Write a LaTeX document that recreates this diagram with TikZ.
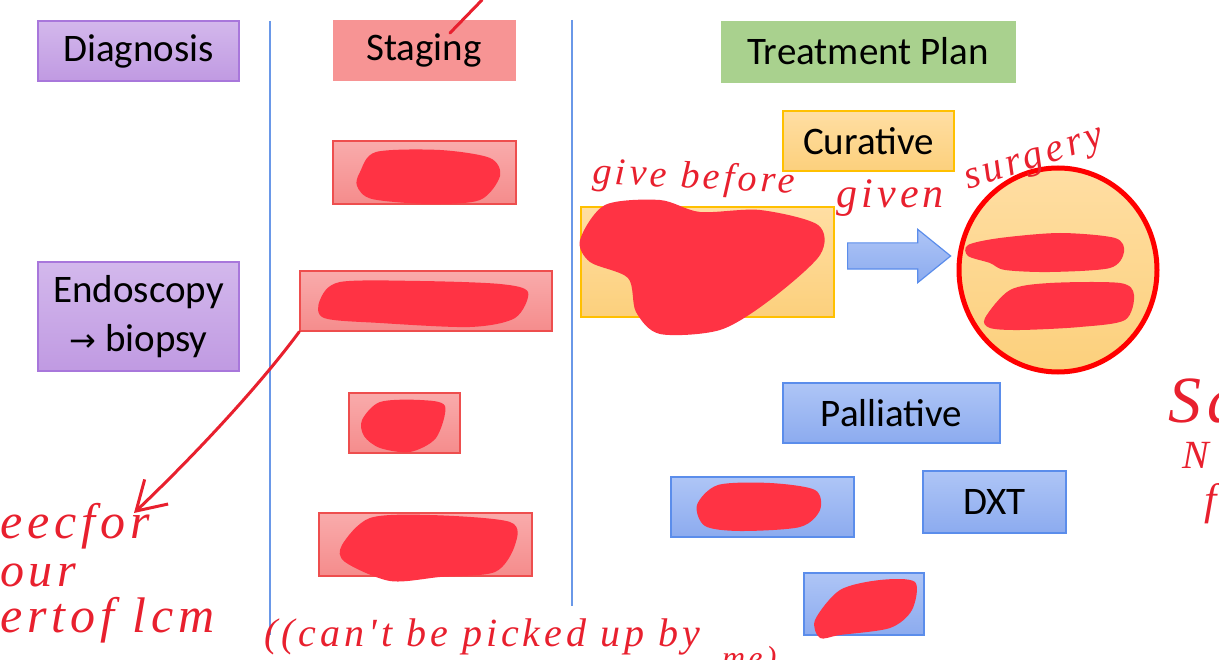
\documentclass[tikz,border=0pt]{standalone}
\usepackage{fontspec}
\setmainfont{Carlito}
\newfontfamily\handfont[LetterSpace=10]{Liberation Serif}
\newfontfamily\symf{DejaVu Sans}
\usetikzlibrary{arrows.meta,shapes.arrows,shapes.geometric}
\definecolor{purT}{HTML}{D3B8EC}\definecolor{purB}{HTML}{C09AE2}\definecolor{purD}{HTML}{A877DB}
\definecolor{salm}{HTML}{F79494}
\definecolor{pinkT}{HTML}{F9ABAB}\definecolor{pinkB}{HTML}{F58C8C}\definecolor{pinkD}{HTML}{EE4E4E}
\definecolor{grn}{HTML}{A9D18E}
\definecolor{orT}{HTML}{FFDEA3}\definecolor{orB}{HTML}{FCD07C}\definecolor{orD}{HTML}{FFC000}
\definecolor{bluT}{HTML}{AEC5F6}\definecolor{bluB}{HTML}{8CABEF}\definecolor{bluD}{HTML}{5B8DEB}
\definecolor{vline}{HTML}{6A98E8}
\definecolor{scrib}{HTML}{FF3344}
\definecolor{ink}{HTML}{E8202E}
\tikzset{
  lbl/.style={font=\fontsize{39}{49}\selectfont, text=black, inner sep=0pt, align=center},
  purbox/.style={lbl, top color=purT, bottom color=purB, draw=purD, line width=1.5pt},
  salbox/.style={lbl, fill=salm, draw=salm},
  pinkbox/.style={lbl, top color=pinkT, bottom color=pinkB, draw=pinkD, line width=1.5pt},
  grnbox/.style={lbl, fill=grn, draw=grn},
  orbox/.style={lbl, top color=orT, bottom color=orB, draw=orD, line width=1.5pt},
  blubox/.style={lbl, top color=bluT, bottom color=bluB, draw=bluD, line width=1.5pt},
  divider/.style={draw=vline, line width=1.5pt},
  scribble/.style={fill=scrib},
  hand/.style={text=ink, inner sep=0pt, font=\handfont\itshape\fontsize{#1}{#1}\selectfont},
  hand/.default=40,
  inkline/.style={draw=ink, line width=3pt, line cap=round, line join=round},
}
\begin{document}
\begin{tikzpicture}[x=1pt,y=-1pt]
\useasboundingbox (0,0) rectangle (1219,660);
% dividers
\coordinate (v1t) at (270,21); \coordinate (v1b) at (270,635);
\coordinate (v2t) at (572,20); \coordinate (v2b) at (572,606);
\draw[divider] (v1t) -- (v1b);
\draw[divider] (v2t) -- (v2b);
% diagnosis column
\node[purbox, minimum width=201pt, minimum height=60pt] (diag) at (138.5,51) {Diagnosis};
\node[purbox, minimum width=201pt, minimum height=109pt] (endo) at (138.5,316.5) {Endoscopy\\{\symf\fontsize{32}{49}\selectfont →} biopsy};
% staging column
\node[salbox, minimum width=182pt, minimum height=60pt] (stag) at (424,50) {Staging};
\node[pinkbox, minimum width=183pt, minimum height=63pt] (s1) at (424.5,172.5) {};
\node[pinkbox, minimum width=252pt, minimum height=60pt] (s2) at (426,301) {};
\node[pinkbox, minimum width=111pt, minimum height=60pt] (s3) at (404.5,423) {};
\node[pinkbox, minimum width=213pt, minimum height=63pt] (s4) at (425.5,544.5) {};
% treatment column
\node[grnbox, minimum width=294pt, minimum height=61pt] (treat) at (868,51.5) {Treatment Plan};
\node[orbox, minimum width=171pt, minimum height=60pt] (cur) at (868.5,141) {Curative};
\node[orbox, minimum width=253pt, minimum height=110pt] (big) at (707.5,262) {};
\node[single arrow, top color=bluT, bottom color=bluB, draw=bluD, line width=1.2pt,
      minimum height=103pt, inner xsep=0pt, inner ysep=12.5pt, anchor=west,
      single arrow head extend=13.5pt, single arrow tip angle=78] (arr) at (847,256) {};
\node[ellipse, top color=orT, bottom color=orB, draw=red, line width=5pt,
      minimum width=198pt, minimum height=204pt, inner sep=0pt] (circ) at (1058,270) {};
\node[blubox, minimum width=217pt, minimum height=60pt] (pall) at (891.5,413) {Palliative};
\node[blubox, minimum width=183pt, minimum height=60pt] (b1) at (762.5,507) {};
\node[blubox, minimum width=143pt, minimum height=62pt] (dxt) at (994.5,502) {DXT};
\node[blubox, minimum width=120pt, minimum height=62pt] (b3) at (864,604) {};
% scribbles
\fill[scribble] plot[smooth cycle] coordinates {(360,172) (376,152) (440,150) (490,158) (500,176) (480,200) (430,204) (372,199) (357,186)};
\fill[scribble] plot[smooth cycle] coordinates {(320,300) (340,282) (420,281) (500,284) (528,292) (515,318) (470,327) (380,323) (324,318)};
\fill[scribble] plot[smooth cycle] coordinates {(362,420) (380,402) (420,400) (445,406) (436,438) (410,452) (380,448) (364,436)};
\fill[scribble] plot[smooth cycle] coordinates {(342,545) (370,518) (430,515) (510,522) (515,545) (495,572) (440,577) (390,581) (345,562)};
\fill[scribble] plot[smooth cycle] coordinates {(580,240) (605,205) (660,200) (700,212) (760,210) (818,225) (820,255) (770,300) (720,330) (660,334) (636,312) (628,278) (590,262)};
\fill[scribble] plot[smooth cycle] coordinates {(968,245) (1000,238) (1060,233) (1115,238) (1124,252) (1110,268) (1050,272) (1005,270) (990,263) (968,256)};
\fill[scribble] plot[smooth cycle] coordinates {(985,318) (1010,290) (1050,283) (1120,283) (1134,295) (1125,320) (1080,327) (1020,330) (990,328)};
\fill[scribble] plot[smooth cycle] coordinates {(697,505) (718,485) (770,483) (815,490) (820,510) (800,527) (740,531) (705,526)};
\fill[scribble] plot[smooth cycle] coordinates {(815,620) (840,590) (880,580) (915,582) (912,610) (890,628) (840,635) (820,638)};
% ink annotations
\coordinate (stagmark) at (482,0);
\draw[inkline] (450,33) -- (stagmark);
\coordinate (checknote) at (134,513);
\draw[inkline, -{Straight Barb[length=28pt,width=34pt,line width=3pt]}] (s2.south west) .. controls (260,385) and (195,455) .. (checknote);
\node[hand=38, anchor=base west, rotate=-3] (give) at (592,183) {give before};
\node[hand=42, anchor=base west] (given) at (836,208) {given};
\node[hand=40, anchor=base west, rotate=18] (surg) at (968,190) {surgery};
\node[hand=66, anchor=base west] (sa) at (1168,422) {Sa};
\node[hand=40, anchor=base west] (nn) at (1182,468) {N};
\node[hand=44, anchor=base west] (ff) at (1204,514) {f};
\node[hand=50, anchor=base west] (eec) at (0,538) {eecfor};
\node[hand=48, anchor=base west] (our) at (0,586) {our};
\node[hand=50, anchor=base west] (ert) at (0,632) {ertof\ lcm};
\node[hand=40, anchor=base west] (cant) at (264,646) {((can't be picked up by};
\node[hand=32, anchor=base west] (me) at (722,668) {me)};
\end{tikzpicture}
\end{document}
